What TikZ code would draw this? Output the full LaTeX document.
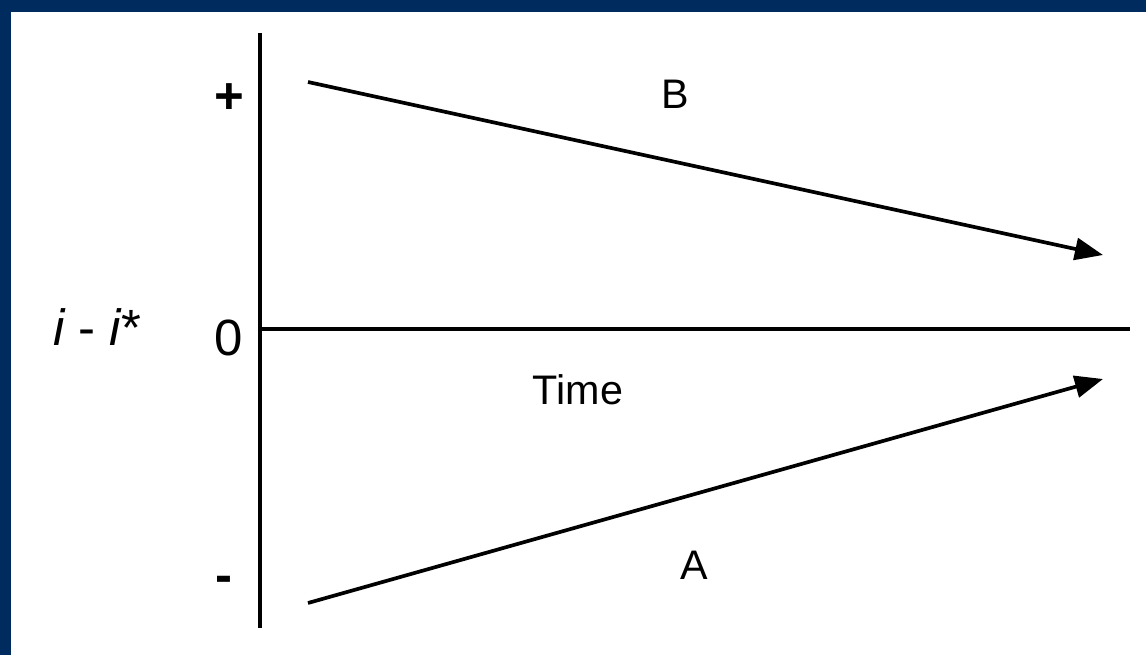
\documentclass[tikz,border=0pt]{standalone}
\usepackage{fontspec}
\setmainfont{Liberation Sans}
\usetikzlibrary{arrows.meta}
\definecolor{navy}{HTML}{002B5F}

\begin{document}
\begin{tikzpicture}[x=0.02cm,y=-0.02cm,
  ax/.style={line width=2.1pt},
  ar/.style={-{Triangle[length=16pt,width=12.5pt]},line width=2.1pt},
  big/.style={font=\fontsize{29}{33}\selectfont},
  sign/.style={font=\fontsize{29}{33}\selectfont\bfseries},
  lab/.style={font=\fontsize{23.5}{27}\selectfont}]
  % frame
  \useasboundingbox (0,0) rectangle (1146,655);
  \fill[navy] (0,0) rectangle (1146,12);
  \fill[navy] (0,0) rectangle (11,655);
  % axes
  \coordinate (top) at (260,33);
  \coordinate (bot) at (260,628);
  \coordinate (org) at (260,329);
  \coordinate (end) at (1130,329);
  \draw[ax] (top) -- (bot);
  \draw[ax] (org) -- (end);
  \node[sign] (plus) at (229,99) {+};
  \node[big] (zero) at (229,338) {0};
  \node[sign] (minus) at (224,584) {-};
  \node[big] (yl) at (97,327) {\itshape i\upshape{} - \itshape i\upshape*};
  \node[lab] (time) at (578,390) {Time};
  % paths
  \coordinate (b0) at (308,82);
  \coordinate (b1) at (1103,255);
  \coordinate (a0) at (308,603);
  \coordinate (a1) at (1103,379);
  \draw[ar] (b0) -- (b1);
  \draw[ar] (a0) -- (a1);
  \node[lab] (B) at (675,94) {B};
  \node[lab] (A) at (694,565) {A};
\end{tikzpicture}
\end{document}
